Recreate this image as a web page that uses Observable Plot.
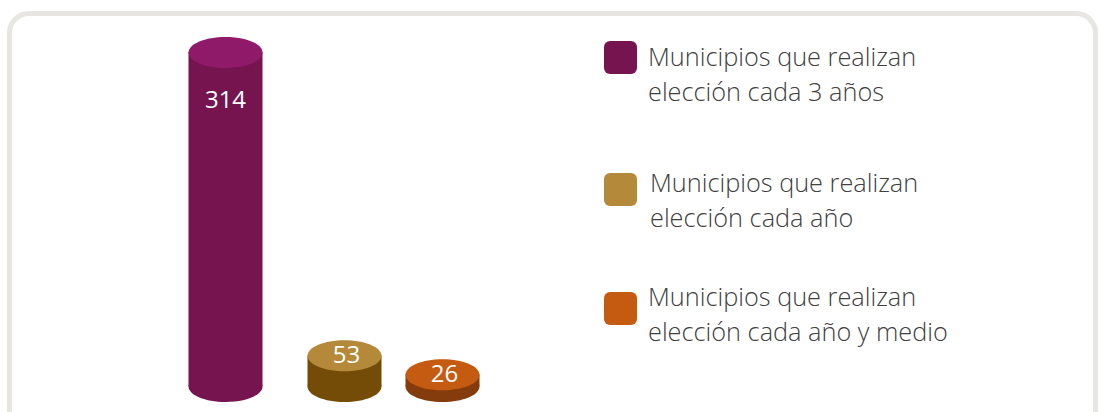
<!DOCTYPE html>
<html>
<head>
<meta charset="utf-8">
<script src="https://cdn.jsdelivr.net/npm/d3@7"></script>
<script src="https://cdn.jsdelivr.net/npm/@observablehq/plot@0.6"></script>
<style>
  html, body { margin: 0; padding: 0; background: #fff; }
  #wrap { position: relative; width: 1099px; height: 412px; overflow: hidden; }
  #frame { position: absolute; left: 7px; top: 11px; width: 1081px; height: 440px;
           border: 5px solid #e8e6e2; border-radius: 22px; box-sizing: content-box; }
  #chart { position: absolute; left: 0; top: 0; }
  .leg { position: absolute; font-family: "Open Sans", sans-serif; font-weight: 300;
         font-size: 25.3px; line-height: 35px; color: #404040; white-space: nowrap; }
  .sw { position: absolute; width: 33px; height: 33px; border-radius: 6px; }
</style>
</head>
<body>
<div id="wrap">
  <div id="frame"></div>
  <div id="chart"></div>
</div>
<script>
const categories = ["Municipios que realizan elección cada 3 años", "Municipios que realizan elección cada año", "Municipios que realizan elección cada año y medio"];
const legendLines = [["Municipios que realizan", "elección cada 3 años"], ["Municipios que realizan", "elección cada año"], ["Municipios que realizan", "elección cada año y medio"]];
const values = [314, 53, 26];
const topColors = ["#8f1a6a", "#b5893a", "#c55a11"];
const bodyColors = ["#761450", "#744c08", "#843c0c"];
const legendColors = ["#761450", "#b5893a", "#c55a11"];

const data = categories.map((c, i) => ({cat: c, value: values[i], top: topColors[i], body: bodyColors[i]}));

const RX = 37, RY = 15.5;
const ellipse = {
  draw(ctx) {
    const k = 0.5523;
    ctx.moveTo(RX, 0);
    ctx.bezierCurveTo(RX, RY * k, RX * k, RY, 0, RY);
    ctx.bezierCurveTo(-RX * k, RY, -RX, RY * k, -RX, 0);
    ctx.bezierCurveTo(-RX, -RY * k, -RX * k, -RY, 0, -RY);
    ctx.bezierCurveTo(RX * k, -RY, RX, -RY * k, RX, 0);
    ctx.closePath();
  }
};

const plot = Plot.plot({
  width: 1099,
  height: 412,
  margin: 0,
  x: {type: "ordinal", domain: categories, range: [225, 344, 442], axis: null},
  y: {type: "pow", exponent: 1.34, domain: [0, 314], range: [386, 52], axis: null},
  color: {type: "identity"},
  style: {background: "transparent"},
  marks: [
    Plot.dot(data, {x: "cat", y: () => 0, symbol: ellipse, fill: "body", stroke: "none"}),
    Plot.ruleX(data, {x: "cat", y1: () => 0, y2: "value", stroke: "body", strokeWidth: 2 * RX, strokeLinecap: "butt"}),
    Plot.dot(data, {x: "cat", y: "value", symbol: ellipse, fill: "top", stroke: "none"}),
    Plot.text(data.filter(d => d.value > 100), {x: "cat", y: "value", text: d => String(d.value), dy: 48, dx: 0, fill: "white", fontSize: 24, fontFamily: "Open Sans, sans-serif"}),
    Plot.text(data.filter(d => d.value <= 100), {x: "cat", y: "value", text: d => String(d.value), dy: 0, dx: 2, fill: "white", fontSize: 24, fontFamily: "Open Sans, sans-serif"})
  ]
});
document.getElementById("chart").appendChild(plot);

const wrap = document.getElementById("wrap");
const swTops = [41, 173, 292];
const textTops = [39, 165, 279];
const textLefts = [648, 650, 648];
legendLines.forEach((lines, i) => {
  const sw = document.createElement("div");
  sw.className = "sw";
  sw.style.left = "604px";
  sw.style.top = swTops[i] + "px";
  sw.style.background = legendColors[i];
  wrap.appendChild(sw);
  const t = document.createElement("div");
  t.className = "leg";
  t.style.left = textLefts[i] + "px";
  t.style.top = textTops[i] + "px";
  t.innerHTML = lines.join("<br>");
  wrap.appendChild(t);
});
</script>
</body>
</html>
